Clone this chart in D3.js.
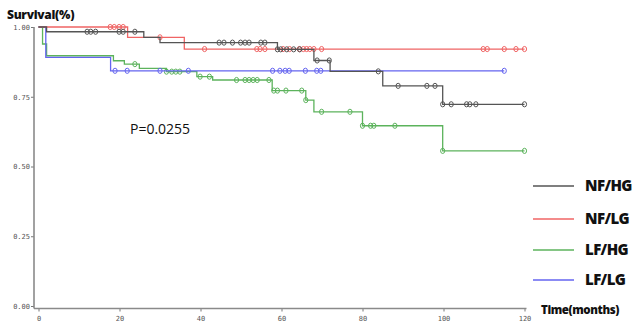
<!DOCTYPE html>
<html><head><meta charset="utf-8">
<script src="https://cdn.jsdelivr.net/npm/d3@7"></script>
<style>html,body{margin:0;padding:0;background:#fff;}svg{display:block;}</style>
</head><body>
<svg id="c" width="635" height="324"></svg>
<script>
// ---- data ----
const groups = ["NF/HG", "NF/LG", "LF/HG", "LF/LG"];
const colors = ["#555555", "#f06464", "#5cb35c", "#6464f0"];
const xTicks = [0, 20, 40, 60, 80, 100, 120];
const yTicks = [0, 0.25, 0.5, 0.75, 1];
const pValue = "P=0.0255";

// step times and survival after each step
const nfhgTimes = [0, 2, 26, 30, 59, 68, 72, 85, 99.8];
const nfhgSurv  = [1, 0.983, 0.963, 0.944, 0.92, 0.88, 0.841, 0.789, 0.723];
const nfhgCens  = [12, 12.9, 14.1, 19.9, 20.9, 23.8, 44.6, 45.8, 47.9, 49.9, 51, 52, 54.9, 55.9,
                   59, 59.8, 61.3, 63, 64.5, 68.8, 71.8, 83.9, 88.8, 95.9, 97.9, 99.8, 101.9, 105.7, 106.5, 108, 120];
const nfhgEnd = 120;

const nflgTimes = [0, 22, 36];
const nflgSurv  = [1, 0.963, 0.921];
const nflgCens  = [17.7, 18.7, 19.9, 20.9, 30, 41, 53.9, 54.7, 55.9, 60.4, 62, 64.4, 65.4, 66.2, 67, 68, 69.9,
                   109.8, 110.8, 115, 117.9, 120];
const nflgEnd = 120;

const lfhgTimes = [0, 1, 2, 18.5, 21.2, 24.9, 31.6, 39.1, 43, 57.7, 66, 68, 80, 99.8];
const lfhgSurv  = [1, 0.939, 0.897, 0.879, 0.867, 0.852, 0.84, 0.822, 0.81, 0.772, 0.738, 0.696, 0.646, 0.556];
const lfhgCens  = [23.8, 31.6, 32.9, 33.9, 34.9, 39.9, 42.2, 48.9, 51, 52, 53, 54, 56.9, 58.1, 59, 61.1, 65,
                   66, 69.9, 76.9, 80, 82, 82.8, 88, 99.8, 120];
const lfhgEnd = 120;

const lflgTimes = [0, 1.8, 17.8];
const lflgSurv  = [1, 0.891, 0.843];
const lflgCens  = [18.9, 21.9, 30, 37, 57.8, 59.6, 60.9, 61.9, 65.9, 68.7, 69.7, 115];
const lflgEnd = 115;

// ---- chart ----
const svg = d3.select("#c");
const x = d3.scaleLinear().domain([0, 120]).range([38.5, 524.5]);
const y = d3.scaleLinear().domain([0, 1]).range([306, 27]);
const axisX = 34, axisY = 308.5;

const series = [
  {times: nfhgTimes, surv: nfhgSurv, cens: nfhgCens, end: nfhgEnd},
  {times: nflgTimes, surv: nflgSurv, cens: nflgCens, end: nflgEnd},
  {times: lfhgTimes, surv: lfhgSurv, cens: lfhgCens, end: lfhgEnd},
  {times: lflgTimes, surv: lflgSurv, cens: lflgCens, end: lflgEnd}
].map((s, i) => Object.assign(s, {name: groups[i], color: colors[i]}));

function survAt(s, t) {
  let v = s.surv[0];
  for (let k = 0; k < s.times.length; k++) if (s.times[k] <= t + 1e-9) v = s.surv[k];
  return v;
}

// axes
const gy = svg.append("g").attr("transform", `translate(${axisX},0)`)
  .call(d3.axisLeft(y).tickValues(yTicks).tickSize(3).tickFormat(d3.format(".2f")));
const gx = svg.append("g").attr("transform", `translate(0,${axisY})`)
  .call(d3.axisBottom(x).tickValues(xTicks).tickSize(3).tickFormat(d3.format("d")));
[gx, gy].forEach(g => {
  g.select(".domain").remove();
  g.selectAll(".tick line").attr("stroke", "#777").attr("stroke-width", 1);
  g.selectAll(".tick text").attr("fill", "#555").style("font-family", "DejaVu Sans Mono")
    .style("font-size", "7px");
});
gy.selectAll(".tick text").attr("x", -4);
gx.selectAll(".tick text").attr("y", 8);
svg.append("line").attr("x1", axisX).attr("x2", axisX).attr("y1", y(1)).attr("y2", axisY)
  .attr("stroke", "#8a8a8a").attr("stroke-width", 1.6);
svg.append("line").attr("x1", axisX).attr("x2", x(120) + 2).attr("y1", axisY).attr("y2", axisY)
  .attr("stroke", "#8a8a8a").attr("stroke-width", 1.6);

// curves
const line = d3.line().x(d => x(d[0])).y(d => y(d[1])).curve(d3.curveStepAfter);
const order = [2, 3, 1, 0];
order.forEach(i => {
  const s = series[i];
  const pts = s.times.map((t, k) => [t, s.surv[k]]);
  pts.push([s.end, s.surv[s.surv.length - 1]]);
  svg.append("path").attr("d", line(pts)).attr("fill", "none")
    .attr("stroke", s.color).attr("stroke-width", 1.3);
  svg.append("g").selectAll("ellipse").data(s.cens).join("ellipse")
    .attr("cx", t => x(t)).attr("cy", t => y(survAt(s, t)))
    .attr("rx", 2.1).attr("ry", 2.6)
    .attr("fill", "none").attr("stroke", s.color).attr("stroke-width", 1);
});

// titles
const boldFont = "'Open Sans', 'Noto Sans', sans-serif";
svg.append("text").attr("x", 7).attr("y", 19).text("Survival(%)")
  .style("font-family", boldFont).style("font-weight", "800").style("font-size", "12px")
  .style("letter-spacing", "-0.3px").attr("fill", "#111");
svg.append("text").attr("x", 541).attr("y", 314).text("Time(months)")
  .style("font-family", boldFont).style("font-weight", "800").style("font-size", "11.5px")
  .style("letter-spacing", "-0.4px").attr("fill", "#111");
svg.append("text").attr("x", 130).attr("y", 134).text(pValue)
  .style("font-family", "'Open Sans', sans-serif").style("font-size", "14px").attr("fill", "#111");

// legend
const legY = [186, 219, 250, 280];
series.forEach((s, i) => {
  svg.append("line").attr("x1", 533).attr("x2", 574).attr("y1", legY[i]).attr("y2", legY[i])
    .attr("stroke", s.color).attr("stroke-width", 1.3);
  svg.append("text").attr("x", 585).attr("y", legY[i] + 5).text(s.name)
    .style("font-family", boldFont).style("font-weight", "800").style("font-size", "15px")
    .style("letter-spacing", "-0.6px").attr("fill", "#111");
});
</script>
</body></html>
